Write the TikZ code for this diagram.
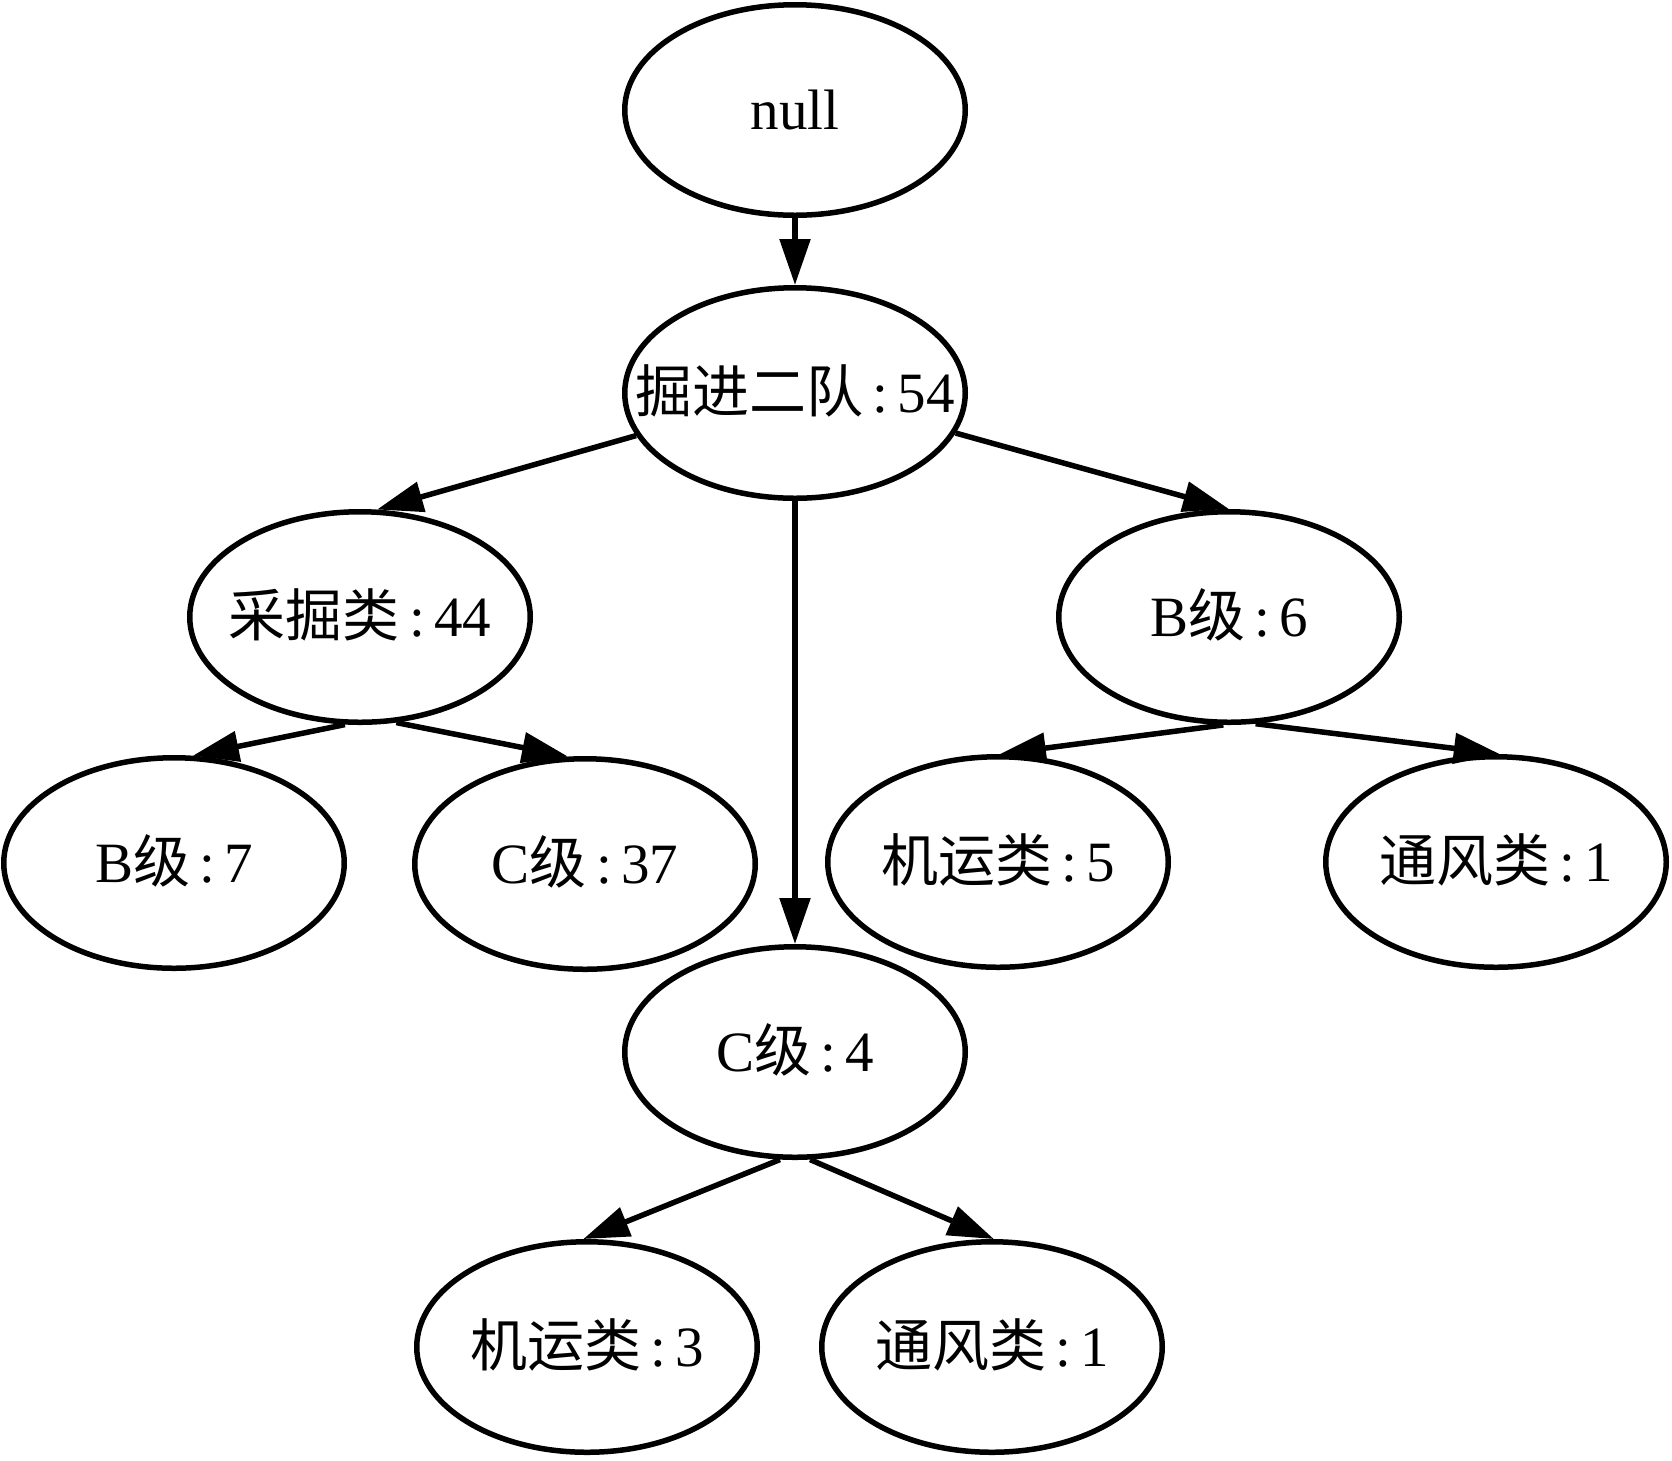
\documentclass[tikz,border=0pt]{standalone}
\usepackage{fontspec}
\setmainfont{Liberation Serif}
\newfontfamily\cjk{Noto Sans CJK SC}
\usetikzlibrary{shapes.geometric,arrows.meta}
\newcommand\cl{\hspace{0.16em}:\hspace{0.16em}}
\newcommand\lbl[1]{\makebox[0pt]{\raisebox{-0.35em}[0pt][0pt]{#1}}}
\tikzset{
  nd/.style={ellipse, draw=black, line width=5.5pt, minimum width=340.5pt,
    minimum height=210.5pt, inner sep=0pt, font=\fontsize{57pt}{61pt}\selectfont},
  ed/.style={line width=5.5pt, draw=black, -{Triangle[length=46pt,width=30pt]}}
}
\begin{document}
\begin{tikzpicture}[x=1pt,y=-1pt]
\useasboundingbox[fill=white] (0,0) rectangle (1672,1460);
\node[nd] (n0)  at (795,110)  {\lbl{null}};
\node[nd] (n1)  at (795,393)  {\lbl{{\cjk 掘进二队}\cl 54}};
\node[nd] (n2)  at (360,617)  {\lbl{{\cjk 采掘类}\cl 44}};
\node[nd] (n3)  at (1229,617) {\lbl{B{\cjk 级}\cl 6}};
\node[nd] (n4)  at (174,863)  {\lbl{B{\cjk 级}\cl 7}};
\node[nd] (n5)  at (585,864)  {\lbl{C{\cjk 级}\cl 37}};
\node[nd] (n6)  at (998,862)  {\lbl{{\cjk 机运类}\cl 5}};
\node[nd] (n7)  at (1496,862) {\lbl{{\cjk 通风类}\cl 1}};
\node[nd] (n8)  at (795,1052) {\lbl{C{\cjk 级}\cl 4}};
\node[nd] (n9)  at (587,1347) {\lbl{{\cjk 机运类}\cl 3}};
\node[nd] (n10) at (992,1347) {\lbl{{\cjk 通风类}\cl 1}};
\draw[ed] (n0.south) -- (n1.north);
\draw[ed] (n1.195) -- (n2.81.5);
\draw[ed] (n1.-14.5) -- (n3.90);
\draw[ed] (n1.south) -- (n8.north);
\draw[ed] (n2.262) -- (n4.80.4);
\draw[ed] (n2.289.4) -- (n5.99.5);
\draw[ed] (n3.267) -- (n6.89);
\draw[ed] (n3.284.3) -- (n7.88);
\draw[ed] (n8.262) -- (n9.92);
\draw[ed] (n8.278) -- (n10.89.5);
\end{tikzpicture}
\end{document}
